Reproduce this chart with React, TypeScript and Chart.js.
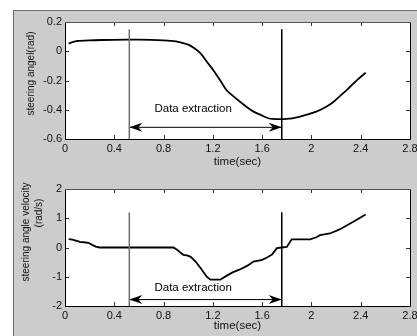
import React, { useEffect, useRef } from "react";
import { Chart, registerables } from "chart.js";

Chart.register(...registerables);

// ---------- data ----------
const xTicks = [0, 0.4, 0.8, 1.2, 1.6, 2, 2.4, 2.8];
const xTickLabels = ["0", "0.4", "0.8", "1.2", "1.6", "2", "2.4", "2.8"];

const angleTicks = [0.2, 0, -0.2, -0.4, -0.6];
const angleTickLabels = ["0.2", "0", "-0.2", "-0.4", "-0.6"];
const velTicks = [2, 1, 0, -1, -2];
const velTickLabels = ["2", "1", "0", "-1", "-2"];

const angleTime = [0.03, 0.06, 0.1, 0.2, 0.3, 0.5, 0.7, 0.8, 0.9, 0.95, 1.0, 1.05, 1.1, 1.15, 1.2, 1.26, 1.31, 1.37, 1.42, 1.48, 1.53, 1.6, 1.65, 1.68, 1.8, 1.9, 2.04, 2.12, 2.18, 2.24, 2.29, 2.37, 2.44];
const angleValues = [0.052, 0.062, 0.07, 0.075, 0.077, 0.079, 0.078, 0.075, 0.068, 0.058, 0.045, 0.02, -0.014, -0.07, -0.125, -0.2, -0.265, -0.31, -0.345, -0.385, -0.413, -0.44, -0.458, -0.463, -0.463, -0.448, -0.413, -0.38, -0.345, -0.3, -0.262, -0.197, -0.147];

const velTime = [0.03, 0.06, 0.095, 0.12, 0.15, 0.19, 0.22, 0.25, 0.28, 0.88, 0.91, 0.93, 0.96, 0.99, 1.02, 1.06, 1.1, 1.15, 1.18, 1.26, 1.31, 1.36, 1.42, 1.48, 1.53, 1.6, 1.64, 1.68, 1.72, 1.76, 1.8, 1.84, 1.99, 2.04, 2.07, 2.15, 2.22, 2.26, 2.34, 2.44];
const velValues = [0.29, 0.27, 0.23, 0.19, 0.18, 0.16, 0.09, 0.03, 0.0, 0.0, -0.08, -0.15, -0.25, -0.27, -0.32, -0.48, -0.7, -1.0, -1.1, -1.1, -0.97, -0.85, -0.75, -0.62, -0.48, -0.42, -0.34, -0.24, -0.02, 0.0, 0.02, 0.28, 0.28, 0.35, 0.42, 0.48, 0.6, 0.69, 0.88, 1.13];

const extractStart = 0.522;
const extractEnd = 1.759;
const extractLabel = "Data extraction";

const angleMarkTop = 0.15;
const angleArrowY = -0.52;
const angleLabelPos = [1.04, -0.395];

const velMarkTop = 1.2;
const velArrowY = -1.78;
const velLabelPos = [1.04, -1.38];

const xTitle = "time(sec)";
const angleTitle = ["steering angel(rad)"];
const velTitle = ["steering angle velocity", "(rad/s)"];

// ---------- styling ----------
const FONT = "'Liberation Sans', Arial, Helvetica, sans-serif";
const W = 417;

const matlabPlugin = {
  id: "matlab",
  beforeDraw(chart: any) {
    const { ctx, chartArea: a } = chart;
    ctx.save();
    ctx.fillStyle = "#ffffff";
    ctx.fillRect(a.left, a.top, a.right - a.left, a.bottom - a.top);
    ctx.restore();
  },
  afterDatasetsDraw(chart: any, _args: any, opts: any) {
    const { ctx, chartArea: a } = chart;
    const xs = chart.scales.x;
    const ys = chart.scales.y;
    ctx.save();
    // inward ticks
    ctx.strokeStyle = "#333";
    ctx.lineWidth = 1;
    const tl = 4;
    ctx.beginPath();
    xs.ticks.forEach((t: any) => {
      const px = Math.round(xs.getPixelForValue(t.value)) + 0.5;
      ctx.moveTo(px, a.bottom);
      ctx.lineTo(px, a.bottom - tl);
      ctx.moveTo(px, a.top);
      ctx.lineTo(px, a.top + tl);
    });
    ys.ticks.forEach((t: any) => {
      const py = Math.round(ys.getPixelForValue(t.value)) + 0.5;
      ctx.moveTo(a.left, py);
      ctx.lineTo(a.left + tl, py);
      ctx.moveTo(a.right, py);
      ctx.lineTo(a.right - tl, py);
    });
    ctx.stroke();

    // box
    ctx.strokeStyle = "#000";
    ctx.beginPath();
    ctx.moveTo(a.left + 0.5, a.top + 0.5);
    ctx.lineTo(a.left + 0.5, a.bottom + 0.5);
    ctx.lineTo(a.right + 0.5, a.bottom + 0.5);
    ctx.lineTo(a.right + 0.5, a.top + 0.5);
    ctx.stroke();
    ctx.strokeStyle = "#555";
    ctx.beginPath();
    ctx.moveTo(a.left, a.top + 0.5);
    ctx.lineTo(a.right + 1, a.top + 0.5);
    ctx.stroke();

    // arrowheads
    const ay = ys.getPixelForValue(opts.arrowY);
    const drawHead = (tipX: number, dir: number) => {
      ctx.fillStyle = "#000";
      ctx.beginPath();
      ctx.moveTo(tipX, ay);
      ctx.lineTo(tipX + dir * 13, ay - 4.5);
      ctx.lineTo(tipX + dir * 9, ay);
      ctx.lineTo(tipX + dir * 13, ay + 4.5);
      ctx.closePath();
      ctx.fill();
    };
    drawHead(xs.getPixelForValue(opts.start), 1);
    drawHead(xs.getPixelForValue(opts.end), -1);

    // label
    ctx.fillStyle = "#000";
    ctx.font = `11.5px ${FONT}`;
    ctx.textAlign = "center";
    ctx.textBaseline = "middle";
    ctx.fillText(opts.label, xs.getPixelForValue(opts.labelPos[0]), ys.getPixelForValue(opts.labelPos[1]));

    // y title
    const cy = (a.top + a.bottom) / 2;
    ctx.font = `10px ${FONT}`;
    ctx.fillStyle = "#111";
    opts.yTitle.forEach((line: string, i: number) => {
      ctx.save();
      ctx.translate(opts.yTitleX[i], cy + opts.yTitleDy[i]);
      ctx.rotate(-Math.PI / 2);
      ctx.fillText(line, 0, 0);
      ctx.restore();
    });
    ctx.restore();
  },
};

function makeConfig(p: {
  times: number[];
  values: number[];
  yMin: number;
  yMax: number;
  yTicks: number[];
  yLabels: string[];
  markTop: number;
  arrowY: number;
  labelPos: number[];
  yTitle: string[];
  yTitleX: number[];
  yTitleDy: number[];
  padTop: number;
  xHeight: number;
  titlePadBottom: number;
  tension: number;
}): any {
  const tickFont = { family: FONT, size: 11 };
  return {
    type: "scatter",
    data: {
      datasets: [
        {
          data: [
            { x: extractStart, y: p.markTop },
            { x: extractStart, y: p.yMin },
          ],
          showLine: true,
          borderColor: "#6e6e6e",
          borderWidth: 1.5,
          pointRadius: 0,
        },
        {
          data: [
            { x: extractEnd, y: p.markTop },
            { x: extractEnd, y: p.yMin },
          ],
          showLine: true,
          borderColor: "#000",
          borderWidth: 1,
          pointRadius: 0,
        },
        {
          data: [
            { x: extractStart, y: p.arrowY },
            { x: extractEnd, y: p.arrowY },
          ],
          showLine: true,
          borderColor: "#000",
          borderWidth: 1,
          pointRadius: 0,
        },
        {
          data: p.times.map((t, i) => ({ x: t, y: p.values[i] })),
          showLine: true,
          borderColor: "#000",
          borderWidth: 1.8,
          pointRadius: 0,
          tension: p.tension,
        },
      ],
    },
    options: {
      responsive: false,
      animation: false,
      events: [],
      layout: { padding: { left: 0, right: 7, top: p.padTop, bottom: 0 } },
      plugins: {
        legend: { display: false },
        tooltip: { enabled: false },
        matlab: {
          start: extractStart,
          end: extractEnd,
          arrowY: p.arrowY,
          label: extractLabel,
          labelPos: p.labelPos,
          yTitle: p.yTitle,
          yTitleX: p.yTitleX,
          yTitleDy: p.yTitleDy,
        },
      },
      scales: {
        x: {
          type: "linear",
          min: 0,
          max: 2.8,
          afterBuildTicks: (s: any) => {
            s.ticks = xTicks.map((v) => ({ value: v }));
          },
          afterFit: (s: any) => {
            s.height = p.xHeight;
            s.paddingLeft = 0;
            s.paddingRight = 0;
          },
          ticks: {
            callback: (_v: any, i: number) => xTickLabels[i],
            font: tickFont,
            color: "#111",
            padding: 3,
            maxRotation: 0,
            autoSkip: false,
          },
          grid: { display: false, drawTicks: false },
          border: { display: false },
          title: {
            display: true,
            text: xTitle,
            font: { family: FONT, size: 11.5 },
            color: "#111",
            padding: { top: 0, bottom: p.titlePadBottom },
          },
        },
        y: {
          type: "linear",
          min: p.yMin,
          max: p.yMax,
          afterBuildTicks: (s: any) => {
            s.ticks = p.yTicks.map((v) => ({ value: v }));
          },
          afterFit: (s: any) => {
            s.width = 65;
            s.paddingTop = 0;
            s.paddingBottom = 0;
          },
          ticks: {
            callback: (_v: any, i: number) => p.yLabels[i],
            font: tickFont,
            color: "#111",
            padding: 3,
            autoSkip: false,
          },
          grid: { display: false, drawTicks: false },
          border: { display: false },
        },
      },
    },
    plugins: [matlabPlugin],
  };
}

function Panel(props: { cfg: any; top: number; height: number }) {
  const ref = useRef<HTMLCanvasElement | null>(null);
  useEffect(() => {
    if (!ref.current) return;
    const chart = new Chart(ref.current, props.cfg);
    return () => chart.destroy();
  }, []);
  return (
    <canvas
      ref={ref}
      width={W}
      height={props.height}
      style={{ position: "absolute", left: 0, top: props.top, width: W, height: props.height }}
    />
  );
}

export default function App() {
  const topCfg = makeConfig({
    times: angleTime,
    values: angleValues,
    yMin: -0.6,
    yMax: 0.2,
    yTicks: angleTicks,
    yLabels: angleTickLabels,
    markTop: angleMarkTop,
    arrowY: angleArrowY,
    labelPos: angleLabelPos,
    yTitle: angleTitle,
    yTitleX: [31],
    yTitleDy: [-7],
    padTop: 22,
    xHeight: 31,
    titlePadBottom: 1,
    tension: 0.3,
  });
  const bottomCfg = makeConfig({
    times: velTime,
    values: velValues,
    yMin: -2,
    yMax: 2,
    yTicks: velTicks,
    yLabels: velTickLabels,
    markTop: velMarkTop,
    arrowY: velArrowY,
    labelPos: velLabelPos,
    yTitle: velTitle,
    yTitleX: [26, 39],
    yTitleDy: [-15.5, -34.5],
    padTop: 19,
    xHeight: 30,
    titlePadBottom: 3,
    tension: 0,
  });
  return (
    <div style={{ position: "absolute", left: 0, top: 0, width: W, height: 336, background: "#fff", overflow: "hidden" }}>
      <div
        style={{
          position: "absolute",
          left: 13,
          top: 10,
          right: 0,
          bottom: 0,
          background: "#cccccc",
          borderLeft: "1px solid #6e6e6e",
          borderTop: "1px solid #6e6e6e",
        }}
      />
      <Panel cfg={topCfg} top={0} height={170} />
      <Panel cfg={bottomCfg} top={170} height={166} />
    </div>
  );
}
